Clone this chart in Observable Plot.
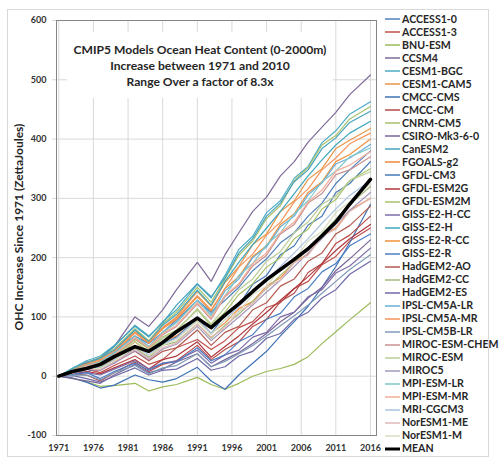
<!DOCTYPE html>
<html>
<head>
<meta charset="utf-8">
<script src="https://cdn.jsdelivr.net/npm/d3@7"></script>
<script src="https://cdn.jsdelivr.net/npm/@observablehq/plot@0.6"></script>
<style>
  html, body { margin: 0; padding: 0; background: #fff; }
  #wrap { position: relative; width: 500px; height: 469px; font-family: Lato, "Open Sans", sans-serif; }
  #wrap > svg { position: absolute; left: 0; top: 0; }
  #outer { position: absolute; left: 7px; top: 9px; width: 482px; height: 448px; border: 1px solid #d9d9d9; box-sizing: border-box; pointer-events: none; }
  #title { position: absolute; left: 67px; top: 32px; width: 266px; height: 66px; background: #fff; box-sizing: border-box; padding-top: 10px; text-align: center; font-weight: 700; font-size: 12.1px; line-height: 16px; color: #262626; }
  #ylab { position: absolute; left: 18px; top: 227px; transform: translate(-50%, -50%) rotate(-90deg); white-space: nowrap; font-weight: 700; font-size: 12px; color: #262626; }
  #legend { position: absolute; left: 385px; top: 12.8px; }
  .row { height: 13.03px; line-height: 13.03px; font-size: 10.6px; font-weight: 700; color: #262626; white-space: nowrap; display: flex; align-items: center; }
  .row svg { display: block; margin-right: 1px; }
</style>
</head>
<body>
<div id="wrap">
  <div id="title"></div>
  <div id="ylab"></div>
  <div id="legend"></div>
  <div id="outer"></div>
</div>
<script>
// ---------- data ----------
const titleLines = ["CMIP5 Models Ocean Heat Content (0-2000m)", "Increase between 1971 and 2010", "Range Over a factor of 8.3x"];
const yTitle = "OHC Increase Since 1971 (ZettaJoules)";
const xTicks = [1971, 1976, 1981, 1986, 1991, 1996, 2001, 2006, 2011, 2016];
const yTicks = [-100, 0, 100, 200, 300, 400, 500, 600];

const years = [1971,1973,1975,1977,1979,1982,1984,1986,1988,1991,1993,1995,1997,1999,2001,2003,2005,2007,2009,2011,2013,2016];

const models = ["ACCESS1-0","ACCESS1-3","BNU-ESM","CCSM4","CESM1-BGC","CESM1-CAM5","CMCC-CMS","CMCC-CM","CNRM-CM5","CSIRO-Mk3-6-0","CanESM2","FGOALS-g2","GFDL-CM3","GFDL-ESM2G","GFDL-ESM2M","GISS-E2-H-CC","GISS-E2-H","GISS-E2-R-CC","GISS-E2-R","HadGEM2-AO","HadGEM2-CC","HadGEM2-ES","IPSL-CM5A-LR","IPSL-CM5A-MR","IPSL-CM5B-LR","MIROC-ESM-CHEM","MIROC-ESM","MIROC5","MPI-ESM-LR","MPI-ESM-MR","MRI-CGCM3","NorESM1-ME","NorESM1-M"];

const colors = ["#4F81BD","#C0504D","#9BBB59","#7F6A9A","#4BACC6","#E8964A","#3F72B5","#B54B48","#A9C06A","#7A6699","#47A3BD","#F08A3C","#4678B8","#B0373E","#A8C26B","#7C6CA8","#3FA7BE","#F0913D","#4C7EC4","#B45A4F","#A6BA7A","#6F6AA8","#6AAFD8","#F5955A","#7F9AB8","#C99090","#B9CC95","#A498BC","#7EC6C9","#F2AE98","#A9C3E0","#E0B8B8","#D8DEC0"];

const ACCESS1_0     = [0,8,22,30,42,68,55,74,95,128,108,128,150,178,198,225,242,270,292,325,348,380];
const ACCESS1_3     = [0,5,12,6,18,34,20,28,48,62,45,60,82,92,116,124,148,160,188,202,228,250];
const BNU_ESM       = [0,-3,-10,-17,-16,-12,-25,-18,-14,-2,-14,-22,-12,0,8,13,20,33,55,75,95,124];
const CCSM4         = [0,10,22,32,50,100,84,112,146,192,160,205,242,278,302,338,362,395,420,445,475,508];
const CESM1_BGC     = [0,14,26,34,52,84,66,92,112,155,132,170,214,236,276,296,334,354,394,414,442,463];
const CESM1_CAM5    = [0,10,24,28,44,75,58,82,100,143,118,158,185,222,240,278,296,332,350,384,398,418];
const CMCC_CMS      = [0,-3,-10,-20,-15,2,-6,-10,-4,15,-8,-22,2,22,42,68,92,118,150,185,225,290];
const CMCC_CM       = [0,4,2,-8,6,24,8,20,26,52,28,45,58,84,96,126,140,175,190,224,238,270];
const CNRM_CM5      = [0,12,20,32,46,80,60,88,108,150,125,164,204,228,266,288,330,352,390,406,434,455];
const CSIRO         = [0,-4,-8,-12,2,20,6,12,24,38,16,28,40,55,72,92,108,132,150,178,198,230];
const CanESM2       = [0,13,24,30,50,86,68,90,120,156,134,166,208,232,270,292,328,348,384,402,428,447];
const FGOALS_g2     = [0,6,16,14,30,58,40,58,68,95,72,90,114,126,152,166,192,206,236,250,280,300];
const GFDL_CM3      = [0,8,6,18,22,48,32,54,66,98,72,104,120,155,170,205,220,255,270,310,325,362];
const GFDL_ESM2G    = [0,3,8,4,14,28,12,28,34,58,32,50,68,88,108,128,148,168,190,212,232,256];
const GFDL_ESM2M    = [0,7,16,22,34,62,46,66,78,112,86,108,138,156,184,200,232,248,282,298,330,350];
const GISS_E2_H_CC  = [0,2,6,2,12,26,12,22,26,44,22,36,44,66,74,100,108,134,146,174,186,216];
const GISS_E2_H     = [0,10,20,30,44,78,58,86,104,145,120,160,192,222,250,278,308,338,365,390,410,430];
const GISS_E2_R_CC  = [0,9,18,26,38,73,56,80,96,134,110,148,168,202,220,256,274,310,328,362,374,400];
const GISS_E2_R     = [0,3,6,-4,8,22,10,22,24,48,26,36,58,70,96,106,134,148,176,190,220,240];
const HadGEM2_AO    = [0,6,12,10,24,42,26,42,48,78,52,74,84,112,124,152,164,194,208,240,254,287];
const HadGEM2_CC    = [0,6,14,12,28,48,32,52,58,88,64,86,105,126,148,170,192,215,240,265,290,320];
const HadGEM2_ES    = [0,1,-4,-10,0,14,2,10,12,30,10,16,34,42,64,72,96,108,132,146,172,194];
const IPSL_CM5A_LR  = [0,9,18,24,40,68,50,74,92,128,104,144,164,200,218,252,270,306,326,358,368,391];
const IPSL_CM5A_MR  = [0,10,20,28,42,73,56,82,98,136,112,148,184,206,238,260,294,316,348,368,392,410];
const IPSL_CM5B_LR  = [0,2,2,-6,6,18,4,14,18,38,16,25,38,52,68,85,102,120,140,160,180,205];
const MIROC_ESM_CHEM= [0,8,16,22,36,63,48,70,84,122,96,134,154,186,204,240,256,292,308,340,348,370];
const MIROC_ESM     = [0,7,16,16,33,58,42,64,76,114,88,116,146,164,194,210,242,260,290,304,330,345];
const MIROC5        = [0,5,12,10,22,43,28,46,54,84,60,80,100,120,142,162,185,208,232,256,280,310];
const MPI_ESM_LR    = [0,9,18,24,38,67,50,74,90,128,102,136,170,190,222,242,274,296,328,346,370,385];
const MPI_ESM_MR    = [0,8,17,22,36,65,48,72,86,124,98,136,156,190,208,242,260,294,314,346,356,379];
const MRI_CGCM3     = [0,6,13,14,28,51,36,54,64,96,72,95,118,140,162,185,208,232,258,282,305,330];
const NorESM1_ME    = [0,5,12,12,24,45,30,48,56,88,66,82,110,122,150,162,192,204,236,248,278,300];
const NorESM1_M     = [0,6,13,13,26,49,34,52,62,93,70,96,108,138,152,182,196,228,244,276,294,325];

const MEAN          = [0,8,13,20,33,50,42,57,75,98,82,103,122,143,163,180,197,215,237,260,290,332];

const seriesValues = [ACCESS1_0,ACCESS1_3,BNU_ESM,CCSM4,CESM1_BGC,CESM1_CAM5,CMCC_CMS,CMCC_CM,CNRM_CM5,CSIRO,CanESM2,FGOALS_g2,GFDL_CM3,GFDL_ESM2G,GFDL_ESM2M,GISS_E2_H_CC,GISS_E2_H,GISS_E2_R_CC,GISS_E2_R,HadGEM2_AO,HadGEM2_CC,HadGEM2_ES,IPSL_CM5A_LR,IPSL_CM5A_MR,IPSL_CM5B_LR,MIROC_ESM_CHEM,MIROC_ESM,MIROC5,MPI_ESM_LR,MPI_ESM_MR,MRI_CGCM3,NorESM1_ME,NorESM1_M];

// ---------- build ----------
const rows = models.flatMap((m, i) => years.map((yr, j) => ({model: m, year: yr, value: seriesValues[i][j]})));
const meanRows = years.map((yr, j) => ({year: yr, value: MEAN[j]}));

const chart = Plot.plot({
  width: 500,
  height: 469,
  marginLeft: 56,
  marginRight: 124,
  marginTop: 20,
  marginBottom: 34,
  style: {fontFamily: "Lato, 'Open Sans', sans-serif", fontWeight: 700, fontSize: "9px", color: "#333", background: "transparent"},
  x: {domain: [1970.67, 2016.87]},
  y: {domain: [-100, 600]},
  color: {domain: models, range: colors},
  marks: [
    Plot.gridX(xTicks, {stroke: "#d9d9d9", strokeOpacity: 1}),
    Plot.gridY(yTicks, {stroke: "#d9d9d9", strokeOpacity: 1}),
    Plot.axisY(yTicks, {tickSize: 4, tickPadding: 6, label: null, stroke: "#d9d9d9", tickFormat: d => String(d), fontSize: 9, fontWeight: 700}),
    Plot.axisX(xTicks, {tickSize: 0, tickPadding: 9, label: null, tickFormat: d => String(d), fontSize: 9, fontWeight: 700}),
    Plot.line(rows, {x: "year", y: "value", z: "model", stroke: "model", strokeWidth: 1.2}),
    Plot.line(meanRows, {x: "year", y: "value", stroke: "#000", strokeWidth: 3.5}),
    Plot.frame({stroke: "#868686", strokeWidth: 1})
  ]
});
document.getElementById("wrap").prepend(chart);

document.getElementById("title").innerHTML = titleLines.map(t => `<div>${t}</div>`).join("");
document.getElementById("ylab").textContent = yTitle;

const leg = document.getElementById("legend");
models.concat(["MEAN"]).forEach((m, i) => {
  const isMean = m === "MEAN";
  const c = isMean ? "#000" : colors[i];
  const row = document.createElement("div");
  row.className = "row";
  row.innerHTML = `<svg width="16" height="6"><line x1="0" x2="15" y1="3" y2="3" stroke="${c}" stroke-width="${isMean ? 3 : 1.5}"/></svg><span>${m}</span>`;
  leg.appendChild(row);
});
</script>
</body>
</html>
